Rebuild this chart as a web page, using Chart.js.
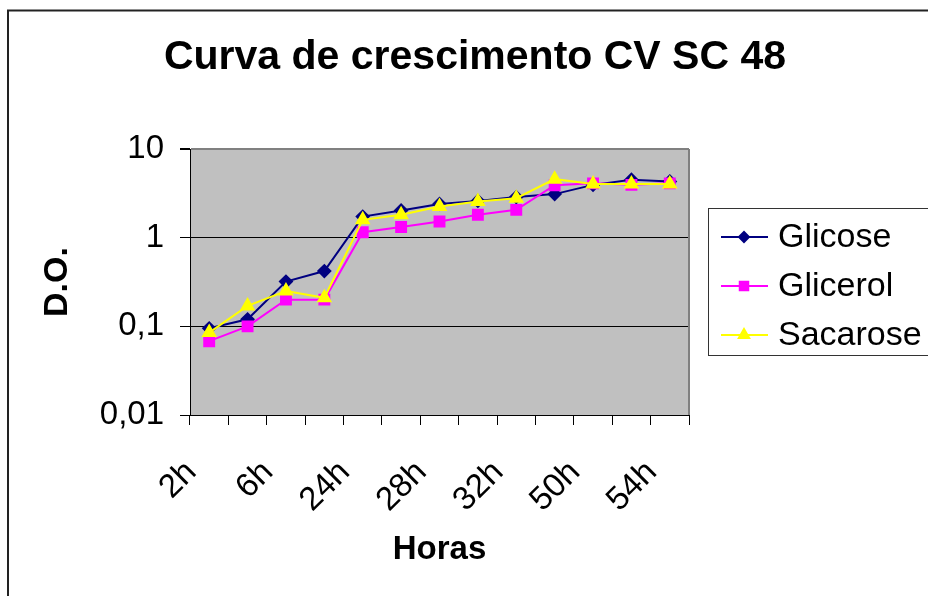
<!DOCTYPE html>
<html>
<head>
<meta charset="utf-8">
<script src="https://cdn.jsdelivr.net/npm/chart.js@4.4.1/dist/chart.umd.min.js"></script>
<style>
  body { margin: 0; background: #fff; }
  canvas { display: block; }
</style>
</head>
<body>
<canvas id="myChart" width="928" height="596"></canvas>
<script>
// data
var labels = ["2h", "4h", "6h", "8h", "24h", "26h", "28h", "30h", "32h", "48h", "50h", "52h", "54h"];
var glicose = [0.095, 0.12, 0.32, 0.42, 1.73, 2.03, 2.4, 2.6, 2.87, 3.1, 3.94, 4.5, 4.3];
var glicerol = [0.068, 0.1, 0.2, 0.2, 1.15, 1.32, 1.52, 1.81, 2.06, 3.9, 4.1, 3.94, 4.1];
var sacarose = [0.085, 0.17, 0.25, 0.21, 1.59, 1.81, 2.25, 2.56, 2.79, 4.57, 4.04, 4.04, 4.04];
var yTicks = [0.01, 0.1, 1, 10];

var FONT = "'Liberation Sans', Arial, sans-serif";

// background, outer frame, plot area
var backdrop = {
  id: "backdrop",
  beforeDraw: function (chart) {
    var c = chart.ctx, a = chart.chartArea;
    c.save();
    c.fillStyle = "#fff";
    c.fillRect(0, 0, chart.width, chart.height);
    c.strokeStyle = "#222";
    c.lineWidth = 2;
    c.strokeRect(8, 10.5, chart.width + 20, chart.height + 20);
    c.fillStyle = "#C0C0C0";
    c.fillRect(a.left, a.top, a.right - a.left, a.bottom - a.top);
    c.restore();
  },
  beforeDatasetsDraw: function (chart) {
    var c = chart.ctx, a = chart.chartArea;
    c.save();
    c.strokeStyle = "#808080";
    c.lineWidth = 2;
    c.beginPath();
    c.moveTo(a.right, a.top);
    c.lineTo(a.right, a.bottom);
    c.stroke();
    c.restore();
  },
  afterDraw: function (chart) {
    var c = chart.ctx;
    c.save();
    c.fillStyle = "#000";
    c.font = "bold 41px " + FONT;
    c.textAlign = "center";
    c.textBaseline = "middle";
    c.fillText("Curva de crescimento CV SC 48", 475, 58);

    // legend
    c.strokeStyle = "#333";
    c.lineWidth = 1;
    c.strokeRect(708.5, 208.5, 260, 147);
    var rows = [237, 286, 335];
    var ds = chart.data.datasets;
    c.font = "34px " + FONT;
    c.textAlign = "left";
    for (var i = 0; i < ds.length; i++) {
      var y = rows[i];
      c.strokeStyle = ds[i].borderColor;
      c.lineWidth = 2;
      c.beginPath();
      c.moveTo(721, y);
      c.lineTo(768, y);
      c.stroke();
      c.fillStyle = ds[i].backgroundColor;
      Chart.helpers.drawPoint(c, { pointStyle: ds[i].pointStyle, radius: ds[i].legendRadius, borderWidth: 1 }, 744, y);
      c.fill();
      c.fillStyle = "#000";
      c.fillText(ds[i].label, 778, y + 1);
    }
    c.restore();
  }
};

var ctx = document.getElementById("myChart").getContext("2d");
var myChart = new Chart(ctx, {
  type: "line",
  data: {
    labels: labels,
    datasets: [
      {
        label: "Glicose",
        data: glicose,
        borderColor: "#000080",
        backgroundColor: "#000080",
        borderWidth: 2,
        pointStyle: "rectRot",
        pointRadius: 6,
        legendRadius: 5,
        order: 3
      },
      {
        label: "Glicerol",
        data: glicerol,
        borderColor: "#FF00FF",
        backgroundColor: "#FF00FF",
        borderWidth: 2,
        pointStyle: "rect",
        pointRadius: 7,
        legendRadius: 6,
        order: 2
      },
      {
        label: "Sacarose",
        data: sacarose,
        borderColor: "#FFFF00",
        backgroundColor: "#FFFF00",
        borderWidth: 2,
        pointStyle: "triangle",
        pointRadius: 7,
        legendRadius: 6,
        order: 1
      }
    ]
  },
  options: {
    responsive: false,
    animation: false,
    devicePixelRatio: 1,
    layout: { padding: { left: 0, top: 149, right: 239, bottom: 0 } },
    plugins: {
      legend: { display: false },
      tooltip: { enabled: false }
    },
    elements: { line: { tension: 0 } },
    scales: {
      x: {
        offset: true,
        grid: { offset: true, drawOnChartArea: false, tickLength: 10, color: "#000" },
        border: { color: "#000", width: 1 },
        ticks: {
          autoSkip: false,
          maxRotation: 45,
          minRotation: 45,
          padding: 28,
          labelOffset: -18,
          color: "#000",
          font: { family: FONT, size: 33 },
          callback: function (v, i) { return i % 2 === 0 ? labels[i] : ""; }
        },
        title: {
          display: true,
          text: "Horas",
          color: "#000",
          font: { family: FONT, size: 33, weight: "bold" },
          padding: { top: 0, bottom: 26 }
        },
        afterFit: function (s) { s.height = 596 - 415; }
      },
      y: {
        type: "logarithmic",
        min: 0.01,
        max: 10,
        afterBuildTicks: function (s) {
          s.ticks = yTicks.map(function (v) { return { value: v }; });
        },
        grid: {
          color: function (c) { return c.tick && c.tick.value === 10 ? "#808080" : "#000"; },
          tickColor: "#000",
          tickLength: 10,
          lineWidth: function (c) { return c.tick && c.tick.value === 10 ? 2 : 1; }
        },
        border: { color: "#000", width: 1 },
        ticks: {
          padding: 16,
          color: "#000",
          font: { family: FONT, size: 33 },
          callback: function (v) { return String(v).replace(".", ","); }
        },
        title: {
          display: true,
          text: "D.O.",
          color: "#000",
          font: { family: FONT, size: 34, weight: "bold" },
          padding: { top: 37, bottom: 0 }
        },
        afterFit: function (s) { s.width = 190; }
      }
    }
  },
  plugins: [backdrop]
});
</script>
</body>
</html>
